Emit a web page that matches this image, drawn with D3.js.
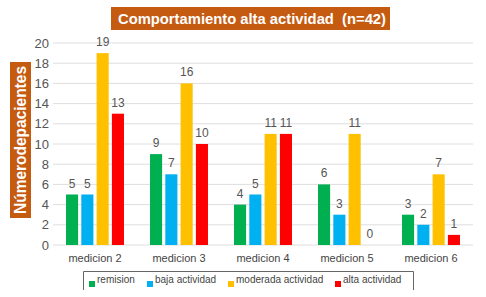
<!DOCTYPE html>
<html>
<head>
<meta charset="utf-8">
<script src="https://cdn.jsdelivr.net/npm/d3@7"></script>
<style>
  body { margin: 0; background: #fff; }
  svg { display: block; font-family: "Liberation Sans", Arial, sans-serif; }
</style>
</head>
<body>
<div id="chart"></div>
<script>
// data
const mediciones = ['medicion 2', 'medicion 3', 'medicion 4', 'medicion 5', 'medicion 6'];
const seriesNames = ['remision', 'baja actividad', 'moderada actividad', 'alta actividad'];
const remision = [5, 9, 4, 6, 3];
const bajaActividad = [5, 7, 5, 3, 2];
const moderadaActividad = [19, 16, 11, 11, 7];
const altaActividad = [13, 10, 11, 0, 1];
const yTicks = [0, 2, 4, 6, 8, 10, 12, 14, 16, 18, 20];
const colors = ['#00b050', '#00b0f0', '#ffc000', '#ff0000'];

const allSeries = [remision, bajaActividad, moderadaActividad, altaActividad];
const rows = mediciones.map((m, i) => ({
  cat: m,
  vals: seriesNames.map((s, j) => ({ key: s, value: allSeries[j][i] }))
}));

const width = 486, height = 297;
const plot = { left: 53, right: 473, top: 43, bottom: 245 };

const svg = d3.select('#chart').append('svg')
  .attr('width', width)
  .attr('height', height);

const y = d3.scaleLinear().domain([0, 20]).range([plot.bottom, plot.top]);
const x0 = d3.scaleBand().domain(mediciones).range([plot.left, plot.right])
  .paddingInner(0.31).paddingOuter(0.155);
const x1 = d3.scaleBand().domain(seriesNames).range([0, x0.bandwidth()])
  .paddingInner(0.21);
const color = d3.scaleOrdinal().domain(seriesNames).range(colors);

// gridlines
svg.append('g')
  .selectAll('line')
  .data(yTicks)
  .enter().append('line')
  .attr('x1', plot.left).attr('x2', plot.right)
  .attr('y1', d => y(d)).attr('y2', d => y(d))
  .attr('stroke', '#dedede')
  .attr('stroke-width', 1);

// y axis labels
const yAxis = d3.axisLeft(y).tickValues(yTicks).tickSize(0).tickPadding(4);
const yg = svg.append('g')
  .attr('transform', `translate(${plot.left},0)`)
  .call(yAxis);
yg.select('.domain').remove();
yg.selectAll('text')
  .style('font-size', '13px')
  .style('font-family', '"Liberation Sans", Arial, sans-serif')
  .attr('fill', '#555');

// bars
const groups = svg.append('g').selectAll('g')
  .data(rows)
  .enter().append('g')
  .attr('transform', d => `translate(${x0(d.cat)},0)`);

groups.selectAll('rect')
  .data(d => d.vals)
  .enter().append('rect')
  .attr('x', d => x1(d.key))
  .attr('width', x1.bandwidth())
  .attr('y', d => y(d.value))
  .attr('height', d => y(0) - y(d.value))
  .attr('fill', d => color(d.key));

groups.selectAll('text')
  .data(d => d.vals)
  .enter().append('text')
  .attr('x', d => x1(d.key) + x1.bandwidth() / 2)
  .attr('y', d => y(d.value) - 7)
  .attr('text-anchor', 'middle')
  .style('font-size', '12px')
  .attr('fill', '#555')
  .text(d => d.value);

// x axis labels
const xAxis = d3.axisBottom(x0).tickSize(0).tickPadding(9);
const xg = svg.append('g')
  .attr('transform', `translate(0,${plot.bottom})`)
  .call(xAxis);
xg.select('.domain').remove();
xg.selectAll('text')
  .style('font-size', '11px')
  .style('font-family', '"Liberation Sans", Arial, sans-serif')
  .attr('fill', '#444');

// title
svg.append('rect')
  .attr('x', 111).attr('y', 7)
  .attr('width', 279).attr('height', 23)
  .attr('fill', '#c55a11');
svg.append('text')
  .attr('x', 252).attr('y', 24)
  .attr('text-anchor', 'middle')
  .attr('fill', '#fff')
  .style('font-size', '15px')
  .style('font-weight', 'bold')
  .attr('textLength', 268)
  .attr('lengthAdjust', 'spacingAndGlyphs')
  .text('Comportamiento alta actividad\u00a0 (n=42)');

// y title
svg.append('rect')
  .attr('x', 10).attr('y', 62)
  .attr('width', 21).attr('height', 156)
  .attr('fill', '#c55a11');
svg.append('text')
  .attr('transform', 'translate(26,140) rotate(-90)')
  .attr('text-anchor', 'middle')
  .attr('fill', '#fff')
  .style('font-size', '16px')
  .style('font-weight', 'bold')
  .attr('textLength', 148)
  .attr('lengthAdjust', 'spacingAndGlyphs')
  .text('Númerodepacientes');

// legend
svg.append('path')
  .attr('d', 'M83.5,290 V271.5 H413.5 V290')
  .attr('fill', 'none')
  .attr('stroke', '#666')
  .attr('stroke-width', 1);

const legendX = [89, 147, 228, 335];
const legend = svg.append('g').selectAll('g')
  .data(seriesNames)
  .enter().append('g')
  .attr('transform', (d, i) => `translate(${legendX[i]},0)`);
legend.append('rect')
  .attr('x', 0).attr('y', 281)
  .attr('width', 6).attr('height', 6)
  .attr('fill', d => color(d));
legend.append('text')
  .attr('x', 8).attr('y', 283)
  .style('font-size', '10px')
  .attr('fill', '#444')
  .text(d => d);
</script>
</body>
</html>
